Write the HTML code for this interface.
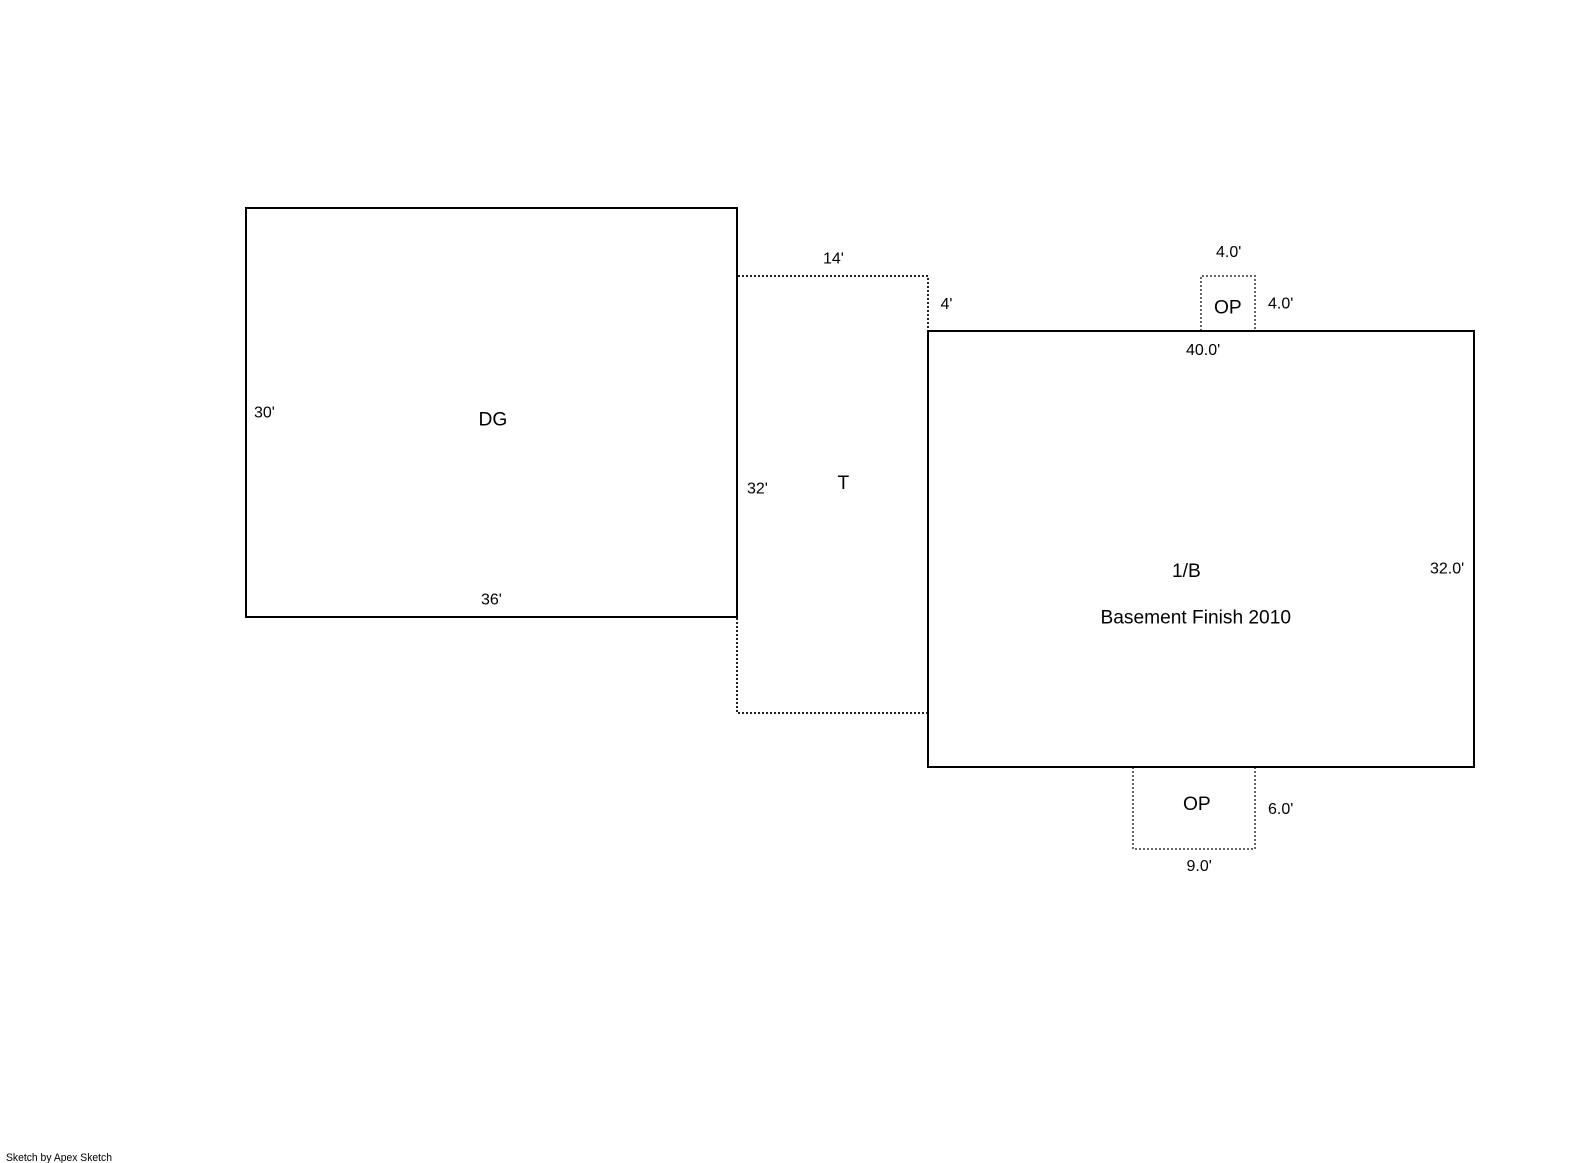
<!DOCTYPE html>
<html><head><meta charset="utf-8"><style>
html,body{margin:0;padding:0;background:#fff;width:1585px;height:1163px;overflow:hidden}
svg{display:block}
text{font-family:"Liberation Sans",sans-serif;fill:#000}
.d{font-size:16px}.l{font-size:19.2px}
</style></head><body>
<svg width="1585" height="1163" viewBox="0 0 1585 1163" xmlns="http://www.w3.org/2000/svg">
<g fill="none" stroke="#222" stroke-width="2" stroke-dasharray="2 2">
<path d="M738 276H928V331"/>
<path d="M737 618V713H928"/>
</g>
<g fill="none" stroke="#666" stroke-width="2" stroke-dasharray="2 2">
<path d="M1201 331V276H1255V331"/>
<path d="M1133 767V849H1255V767"/>
</g>
<g fill="none" stroke="#000" stroke-width="2">
<rect x="246" y="208" width="491" height="409"/>
<rect x="928" y="331" width="546" height="436"/>
</g>
<text class="l" x="478.500" y="425.500">DG</text>
<text class="l" x="837.500" y="489">T</text>
<text class="l" x="1214" y="313.500">OP</text>
<text class="l" x="1172" y="577">1/B</text>
<text class="l" x="1100.500" y="623.500" textLength="190.500" lengthAdjust="spacingAndGlyphs">Basement Finish 2010</text>
<text class="l" x="1183" y="810">OP</text>
<text class="d" x="254" y="417.500">30'</text>
<text class="d" x="481" y="604.500">36'</text>
<text class="d" x="823" y="263.500">14'</text>
<text class="d" x="940.500" y="309">4'</text>
<text class="d" x="747" y="493.500">32'</text>
<text class="d" x="1216" y="257">4.0'</text>
<text class="d" x="1268" y="308.500">4.0'</text>
<text class="d" x="1186" y="355">40.0'</text>
<text class="d" x="1430" y="573.500">32.0'</text>
<text class="d" x="1268" y="814">6.0'</text>
<text class="d" x="1186.500" y="871">9.0'</text>
<text x="6" y="1161" font-size="11" textLength="106" lengthAdjust="spacingAndGlyphs">Sketch by Apex Sketch</text>
</svg>
</body></html>
